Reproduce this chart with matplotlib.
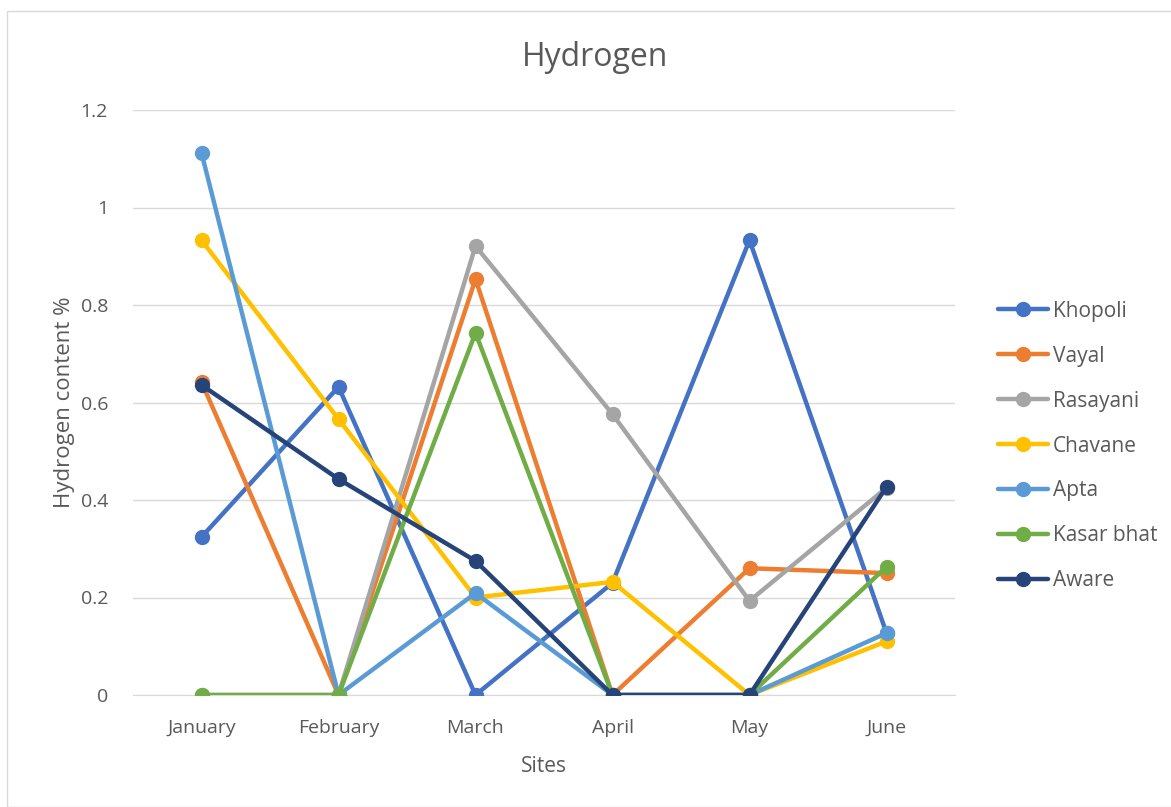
import matplotlib
matplotlib.use('Agg')
import matplotlib.pyplot as plt
from matplotlib.patches import Rectangle

months = ['January', 'February', 'March', 'April', 'May', 'June']
sites = ['Khopoli', 'Vayal', 'Rasayani', 'Chavane', 'Apta', 'Kasar bhat', 'Aware']

khopoli = [0.324, 0.632, 0.0, 0.23, 0.933, 0.127]
vayal = [0.642, 0.0, 0.853, 0.0, 0.26, 0.25]
rasayani = [0.0, 0.0, 0.921, 0.576, 0.193, 0.425]
chavane = [0.933, 0.566, 0.2, 0.232, 0.0, 0.11]
apta = [1.112, 0.0, 0.209, 0.0, 0.0, 0.127]
kasar_bhat = [0.0, 0.0, 0.743, 0.0, 0.0, 0.263]
aware = [0.636, 0.443, 0.275, 0.0, 0.0, 0.427]

series = [khopoli, vayal, rasayani, chavane, apta, kasar_bhat, aware]
colors = ['#4472C4', '#ED7D31', '#A5A5A5', '#FFC000', '#5B9BD5', '#70AD47', '#264478']

plt.rcParams['font.family'] = ['Open Sans', 'DejaVu Sans']

fig = plt.figure(figsize=(11.71, 8.07), dpi=100)
fig.patch.set_facecolor('white')
fig.patches.append(Rectangle((7 / 1171, 0), 1.0, 1 - 11 / 807, transform=fig.transFigure,
                             fill=False, edgecolor='#D9D9D9', linewidth=1))

ax = fig.add_axes([133 / 1171, 112 / 807, 822 / 1171, 585 / 807])

x = list(range(len(months)))
for name, vals, c in zip(sites, series, colors):
    ax.plot(x, vals, color=c, linewidth=3.2, marker='o', markersize=10,
            solid_capstyle='round', label=name)

ax.set_xlim(-0.5, len(months) - 0.5)
ax.set_ylim(0, 1.2)
ax.set_yticks([0, 0.2, 0.4, 0.6, 0.8, 1.0, 1.2])
ax.set_yticklabels(['0', '0.2', '0.4', '0.6', '0.8', '1', '1.2'])
ax.set_xticks(x)
ax.set_xticklabels(months)
ax.tick_params(axis='both', length=0, labelsize=14, colors='#595959')
ax.tick_params(axis='x', pad=17)
ax.tick_params(axis='y', pad=18)
ax.grid(True, axis='y', color='#D9D9D9', linewidth=1)
ax.set_axisbelow(True)
for side in ['top', 'right', 'left']:
    ax.spines[side].set_visible(False)
ax.spines['bottom'].set_color('#D9D9D9')
ax.spines['bottom'].set_zorder(0.5)

fig.text(595 / 1171, 1 - 58 / 807, 'Hydrogen', fontsize=23, color='#595959',
         ha='center', va='center')
ax.set_xlabel('Sites', fontsize=15, color='#595959', labelpad=14)
ax.set_ylabel('Hydrogen content %', fontsize=16, color='#595959', labelpad=4)

leg = ax.legend(loc='center left', bbox_to_anchor=(1.03, 0.4256), frameon=False,
                fontsize=15, labelcolor='#595959', handlelength=2.4,
                handletextpad=0.2, labelspacing=1.15)

fig.savefig('out.png', dpi=100, facecolor='white')
